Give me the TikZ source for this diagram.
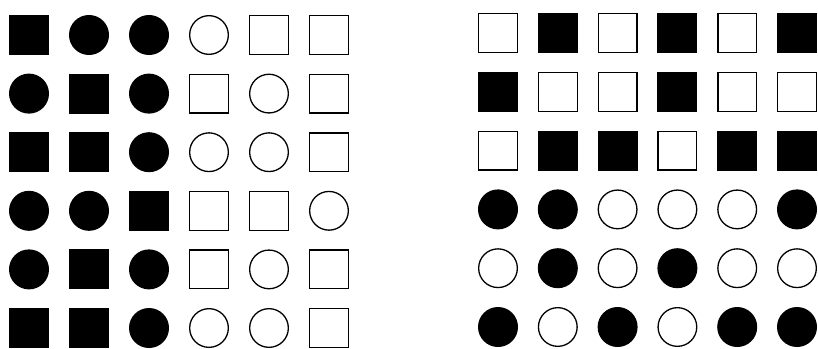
\documentclass[tikz,border=0pt]{standalone}
\usepackage{tikz}

\begin{document}
\begin{tikzpicture}[
        x=1pt, y=-1pt,
        every node/.style={inner sep=0pt, line width=1.3pt},
        fsq/.style={draw=black, fill=black, rectangle, minimum size=38.7pt},
        osq/.style={draw=black, fill=white, rectangle, minimum size=38.7pt},
        fdot/.style={draw=black, fill=black, circle, minimum size=38.7pt},
        odot/.style={draw=black, fill=white, circle, minimum size=38.7pt}
      ]
      \useasboundingbox (0,0) rectangle (818,348);

      % Left block
      \foreach \row [count=\r] in {
          {fsq,fdot,fdot,odot,osq,osq},
          {fdot,fsq,fdot,osq,odot,osq},
          {fsq,fsq,fdot,odot,odot,osq},
          {fdot,fdot,fsq,osq,osq,odot},
          {fdot,fsq,fdot,osq,odot,osq},
          {fsq,fsq,fdot,odot,odot,osq}}
        \foreach \kind [count=\c] in \row
          \node[\kind] (l\r\c) at ({29+60*(\c-1)},{35+58.6*(\r-1)}) {};

      % Right block
      \foreach \row [count=\r] in {
          {osq,fsq,osq,fsq,osq,fsq},
          {fsq,osq,osq,fsq,osq,osq},
          {osq,fsq,fsq,osq,fsq,fsq},
          {fdot,fdot,odot,odot,odot,fdot},
          {odot,fdot,odot,fdot,odot,odot},
          {fdot,odot,fdot,odot,fdot,fdot}}
        \foreach \kind [count=\c] in \row
          \node[\kind] (r\r\c) at ({498+59.8*(\c-1)},{33+58.8*(\r-1)}) {};

    \end{tikzpicture}
\end{document}
